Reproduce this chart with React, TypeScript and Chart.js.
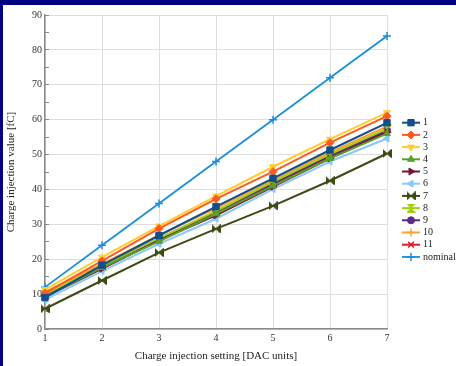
import React, { useEffect, useRef } from 'react';
import { Chart, registerables } from 'chart.js';
import { drawPoint } from 'chart.js/helpers';

Chart.register(...registerables);

const xLabels = ['1', '2', '3', '4', '5', '6', '7'];

const s1 = [9.0, 18.3, 26.8, 35.1, 43.2, 51.3, 59.1];
const s2 = [10.3, 19.5, 28.8, 37.3, 45.1, 53.4, 61.0];
const s3 = [11.3, 20.6, 29.5, 38.1, 46.5, 54.4, 62.0];
const s4 = [9.3, 17.6, 25.1, 33.0, 41.0, 48.9, 56.0];
const s5 = [9.2, 17.3, 25.4, 32.6, 40.8, 48.9, 56.4];
const s6 = [8.4, 16.6, 24.4, 31.6, 40.1, 48.0, 54.6];
const s7 = [5.8, 13.9, 21.9, 28.7, 35.3, 42.5, 50.3];
const s8 = [10.0, 18.0, 26.0, 33.8, 42.2, 50.1, 57.4];
const s9 = [9.6, 17.9, 25.9, 33.6, 41.7, 49.7, 56.9];
const s10 = [10.6, 18.6, 26.9, 34.6, 42.7, 50.6, 58.1];
const s11 = [9.8, 17.4, 25.6, 33.2, 41.4, 49.4, 56.6];
const nominal = [12, 24, 36, 48, 60, 72, 84];

const seriesNames = ['1', '2', '3', '4', '5', '6', '7', '8', '9', '10', '11', 'nominal'];
const seriesValues = [s1, s2, s3, s4, s5, s6, s7, s8, s9, s10, s11, nominal];
const seriesColors = [
  '#124e8c', '#ff5a1f', '#ffcc33', '#5aa02c', '#7a1034', '#88c8f8',
  '#3c4a14', '#a5cf10', '#5a2a84', '#ffa030', '#dd1c2c', '#1b8fd8',
];
const seriesMarkers = [
  'rect', 'rectRot', 'triangle', 'triangle', 'triangle', 'triangle',
  'bowtie', 'hourglass', 'circle', 'cross', 'crossRot', 'cross',
];
const seriesRotations = [0, 0, 180, 0, 90, 270, 0, 0, 0, 0, 0, 0];

const yTitle = 'Charge injection value [fC]';
const xTitle = 'Charge injection setting [DAC units]';

const SERIF = '"Liberation Serif", "Times New Roman", serif';

function makeMarker(kind: string, color: string, size: number): HTMLCanvasElement {
  const c = document.createElement('canvas');
  c.width = size;
  c.height = size;
  const g = c.getContext('2d')!;
  g.fillStyle = color;
  g.strokeStyle = color;
  g.lineWidth = 1;
  const s = size;
  g.beginPath();
  if (kind === 'bowtie') {
    g.moveTo(0.5, 0.5); g.lineTo(s / 2, s / 2); g.lineTo(0.5, s - 0.5); g.closePath();
    g.moveTo(s - 0.5, 0.5); g.lineTo(s / 2, s / 2); g.lineTo(s - 0.5, s - 0.5); g.closePath();
  } else {
    g.moveTo(0.5, 0.5); g.lineTo(s - 0.5, 0.5); g.lineTo(s / 2, s / 2); g.closePath();
    g.moveTo(0.5, s - 0.5); g.lineTo(s - 0.5, s - 0.5); g.lineTo(s / 2, s / 2); g.closePath();
  }
  g.fill();
  g.stroke();
  return c;
}

const sideLegend = {
  id: 'sideLegend',
  afterDraw(chart: any) {
    const { ctx, chartArea } = chart;
    ctx.save();
    const x0 = chartArea.right + 15;
    let y = chartArea.top + 107.7;
    chart.data.datasets.forEach((ds: any) => {
      ctx.strokeStyle = ds.borderColor;
      ctx.lineWidth = ds.borderWidth;
      ctx.beginPath();
      ctx.moveTo(x0, y);
      ctx.lineTo(x0 + 18, y);
      ctx.stroke();
      ctx.fillStyle = ds.pointBackgroundColor;
      ctx.strokeStyle = ds.pointBorderColor;
      ctx.lineWidth = ds.pointBorderWidth;
      drawPoint(ctx, {
        pointStyle: ds.pointStyle,
        rotation: ds.pointRotation,
        radius: ds.pointRadius,
        borderWidth: ds.pointBorderWidth,
      } as any, x0 + 9, y);
      ctx.fillStyle = '#222';
      ctx.font = '10px ' + SERIF;
      ctx.textAlign = 'left';
      ctx.textBaseline = 'middle';
      ctx.fillText(ds.label, x0 + 21, y);
      y += 12.2;
    });
    ctx.restore();
  },
};

export default function App() {
  const ref = useRef<HTMLCanvasElement>(null);

  useEffect(() => {
    if (!ref.current) return;
    const datasets = seriesNames.map((name, i) => {
      const m = seriesMarkers[i];
      const custom = m === 'bowtie' || m === 'hourglass';
      const isStroke = m === 'cross' || m === 'crossRot';
      return {
        label: name,
        data: seriesValues[i],
        borderColor: seriesColors[i],
        backgroundColor: seriesColors[i],
        pointBackgroundColor: seriesColors[i],
        pointBorderColor: seriesColors[i],
        borderWidth: i === 11 ? 1.8 : 2,
        pointStyle: custom ? makeMarker(m, seriesColors[i], 9) : m,
        pointRotation: seriesRotations[i],
        pointRadius: m === 'rect' ? 4.5 : m === 'circle' ? 3.5 : 4,
        pointBorderWidth: isStroke ? 1.5 : 1,
        tension: 0,
      };
    });

    const chart = new Chart(ref.current, {
      type: 'line',
      data: { labels: xLabels, datasets: datasets as any },
      options: {
        responsive: false,
        animation: false,
        layout: { padding: { top: 10, right: 69, left: 0, bottom: 0 } },
        plugins: {
          legend: { display: false },
          tooltip: { enabled: false },
        },
        scales: {
          x: {
            type: 'category',
            grid: { color: '#dedede', lineWidth: 1, drawTicks: false },
            border: { color: '#8a8a8a', width: 1.5 },
            ticks: {
              padding: 3,
              color: '#333',
              font: { family: SERIF, size: 10 },
              maxRotation: 0,
            },
            title: {
              display: true,
              text: xTitle,
              color: '#222',
              font: { family: SERIF, size: 11 },
              padding: { top: 0, bottom: 3 },
            },
            afterFit: (s: any) => { s.height = 37; },
          },
          y: {
            min: 0,
            max: 90,
            grid: {
              color: (c: any) => (c.tick && c.tick.value % 10 === 0 ? '#dedede' : 'rgba(0,0,0,0)'),
              lineWidth: 1,
              drawTicks: true,
              tickLength: -4,
              tickColor: '#8a8a8a',
            },
            border: { color: '#8a8a8a', width: 1.5 },
            ticks: {
              stepSize: 5,
              autoSkip: false,
              padding: 7,
              color: '#333',
              font: { family: SERIF, size: 10 },
              callback: (v: any) => (Number(v) % 10 === 0 ? String(v) : ''),
            },
            title: {
              display: true,
              text: yTitle,
              color: '#222',
              font: { family: SERIF, size: 11 },
              padding: { top: 2, bottom: 0 },
            },
            afterFit: (s: any) => {
              s.width = 42;
              s.paddingTop = 3;
              s.paddingBottom = 3;
            },
          },
        },
      },
      plugins: [sideLegend],
    });
    return () => chart.destroy();
  }, []);

  return (
    <div style={{ position: 'fixed', inset: 0, background: '#000080' }}>
      <div style={{ position: 'absolute', left: 3, top: 5, width: 453, height: 361, background: '#fff' }}>
        <canvas ref={ref} width={453} height={361} style={{ display: 'block' }} />
      </div>
    </div>
  );
}
